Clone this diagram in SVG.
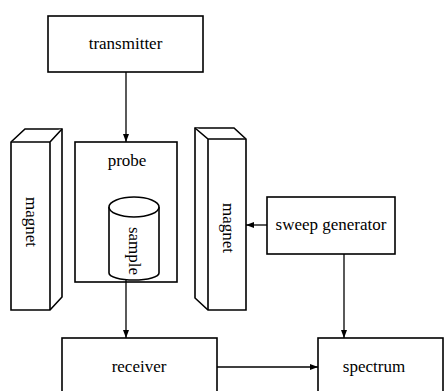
<svg xmlns="http://www.w3.org/2000/svg" width="444" height="391" viewBox="0 0 444 391">
<style>
.b{fill:#fff;stroke:#000;stroke-width:1.6}
.t{font-family:"Liberation Serif","Times New Roman",serif;font-size:17px;fill:#000;text-anchor:middle}
.c{stroke:#000;stroke-width:1.3;fill:none}
</style>
<defs>
<marker id="a" markerWidth="8" markerHeight="8" refX="8" refY="4" orient="auto" markerUnits="userSpaceOnUse">
<path d="M0,1 L8,4 L0,7 Z" fill="#000"/>
</marker>
</defs>
<rect width="444" height="391" fill="#fff"/>
<g id="transmitter">
<rect class="b" x="48" y="16" width="155" height="56"/>
<text class="t" x="125.5" y="49">transmitter</text>
</g>
<g id="magnet-left">
<path class="b" d="M11,142 L25,129 L62,129 L62,297 L50,310 L11,310 Z"/>
<path class="b" d="M11,142 L50,142 L62,129 M50,142 L50,310"/>
<text class="t" transform="translate(26,222) rotate(90)">magnet</text>
</g>
<g id="probe">
<rect class="b" x="75" y="142" width="102" height="140"/>
<text class="t" x="127" y="166">probe</text>
</g>
<g id="sample">
<path class="b" d="M109,207 L109,273 A25,7 0 0 0 159,273 L159,207"/>
<ellipse class="b" cx="134" cy="207" rx="25" ry="10"/>
<text class="t" transform="translate(129,251) rotate(90)">sample</text>
</g>
<g id="magnet-right">
<path class="b" d="M195,128 L234,128 L246,139 L246,310 L208,310 L195,298 Z"/>
<path class="b" d="M195,128 L208,139 L246,139 M208,139 L208,310"/>
<text class="t" transform="translate(223,228) rotate(90)">magnet</text>
</g>
<g id="sweep-generator">
<rect class="b" x="267" y="197" width="128" height="57"/>
<text class="t" x="331" y="230">sweep generator</text>
</g>
<g id="receiver">
<rect class="b" x="62" y="338" width="155" height="60"/>
<text class="t" x="139" y="372">receiver</text>
</g>
<g id="spectrum">
<rect class="b" x="318" y="338" width="125" height="60"/>
<text class="t" x="374" y="372">spectrum</text>
</g>
<g id="connectors">
<line class="c" x1="126" y1="72" x2="126" y2="142" marker-end="url(#a)"/>
<line class="c" x1="126" y1="280" x2="126" y2="338" marker-end="url(#a)"/>
<line class="c" x1="267" y1="225" x2="246" y2="225" marker-end="url(#a)"/>
<line class="c" x1="344" y1="254" x2="344" y2="338" marker-end="url(#a)"/>
<line class="c" x1="217" y1="367" x2="318" y2="367" marker-end="url(#a)"/>
</g>
</svg>
